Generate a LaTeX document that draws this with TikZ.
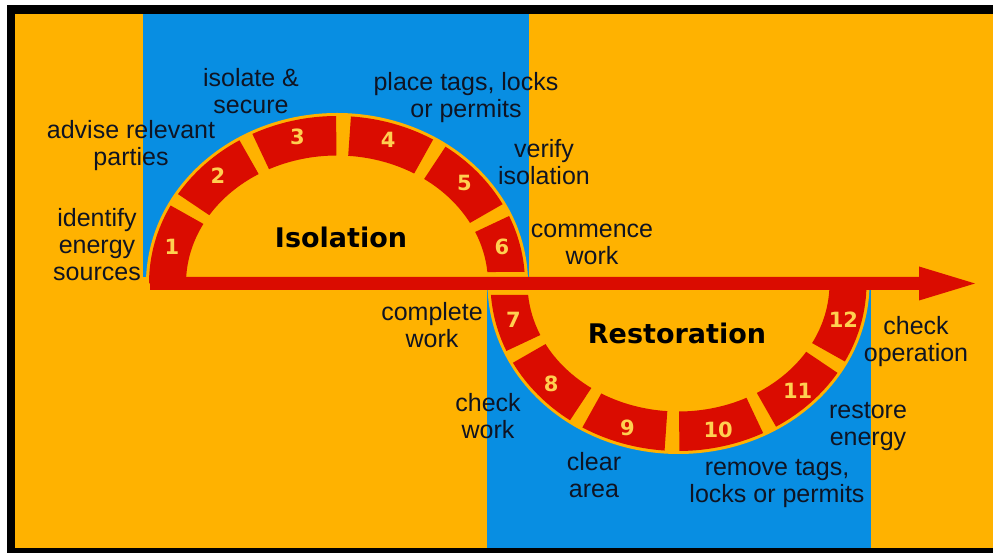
\documentclass[tikz,border=0pt]{standalone}
\usepackage{fontspec}
\setmainfont{Liberation Sans}
\newfontfamily\headfont{DejaVu Sans}
\definecolor{bgorange}{RGB}{255,178,0}
\definecolor{bandblue}{RGB}{8,142,226}
\definecolor{ringred}{RGB}{218,12,0}
\definecolor{numyellow}{RGB}{255,208,80}
\definecolor{txt}{RGB}{15,20,35}
% outer ellipse 188 x 167.5, inner ellipse 151 x 128
\newcommand\ringseg[2]{\fill[ringred] ({188*cos(#1)},{167.5*sin(#1)}) arc[start angle=#1,end angle=#2,x radius=188,y radius=167.5] -- ({151*cos(#2)},{128*sin(#2)}) arc[start angle=#2,end angle=#1,x radius=151,y radius=128] -- cycle;}
\newcommand\numat[1]{({170*cos(#1)},{151*sin(#1)})}
\begin{document}
\begin{tikzpicture}[x=1pt,y=1pt,
  lbl/.style={align=center, inner sep=0pt, text=txt, font=\fontsize{25}{27}\selectfont},
  ttl/.style={inner sep=0pt, text=black, font=\headfont\bfseries\fontsize{27}{30}\selectfont},
  num/.style={inner sep=0pt, text=numyellow, font=\headfont\bfseries\fontsize{21}{22}\selectfont}]
\useasboundingbox (0,0) rectangle (993,553);
\fill[white] (0,0) rectangle (993,553);
\fill[black] (7,0) rectangle (993,548);
\fill[bgorange] (15,5) rectangle (993,539);
\fill[bandblue] (143,276) rectangle (529,539);
\fill[bandblue] (487,5) rectangle (871,263);
% upper half ring
\begin{scope}[shift={(337,269.5)}]
  \fill[bgorange] (191,0) arc[start angle=0,end angle=180,x radius=191,y radius=170.5] -- cycle;
  \ringseg{180}{152.25}
  \ringseg{147.75}{121.25}
  \ringseg{116.75}{90.25}
  \ringseg{85.75}{59.25}
  \ringseg{54.75}{28.25}
  \fill[ringred] ({188*cos(23.75)},{167.5*sin(23.75)}) arc[start angle=23.75,end angle=3.94,x radius=188,y radius=167.5] -- ({151*cos(5.15)},{128*sin(5.15)}) arc[start angle=5.15,end angle=23.75,x radius=151,y radius=128] -- cycle;
  \node[num] (n1) at \numat{166} {1};
  \node[num] (n2) at \numat{134.5} {2};
  \node[num] (n3) at \numat{103.5} {3};
  \node[num] (n4) at \numat{72.5} {4};
  \node[num] (n5) at \numat{41.5} {5};
  \node[num] (n6) at \numat{14} {6};
\end{scope}
% lower half ring
\begin{scope}[shift={(678.5,269.5)}]
  \fill[bgorange] (-191,0) arc[start angle=180,end angle=360,x radius=191,y radius=170.5] -- cycle;
  \fill[ringred] ({188*cos(183.94)},{167.5*sin(183.94)}) arc[start angle=183.94,end angle=203.75,x radius=188,y radius=167.5] -- ({151*cos(203.75)},{128*sin(203.75)}) arc[start angle=203.75,end angle=185.15,x radius=151,y radius=128] -- cycle;
  \ringseg{208.25}{234.75}
  \ringseg{239.25}{265.75}
  \ringseg{270.25}{296.75}
  \ringseg{301.25}{327.75}
  \ringseg{332.25}{360}
  \node[num] (n7) at \numat{194} {7};
  \node[num] (n8) at \numat{221.5} {8};
  \node[num] (n9) at \numat{252.5} {9};
  \node[num] (n10) at \numat{283.5} {10};
  \node[num] (n11) at \numat{314.5} {11};
  \node[num] (n12) at \numat{346} {12};
\end{scope}
% arrow
\fill[ringred] (150,263) -- (919,263) -- (919,252.5) -- (975,269.5) -- (919,286.5) -- (919,276) -- (150,276) -- cycle;
% titles
\node[ttl] (iso) at (341,316) {Isolation};
\node[ttl] (res) at (677,220) {Restoration};
% labels
\node[lbl] (l1) at (97,308) {identify\\energy\\sources};
\node[lbl] (l2) at (131,407) {advise relevant\\parties};
\node[lbl] (l3) at (251,462) {isolate \&\\secure};
\node[lbl] (l4) at (466,455.5) {place tags, locks\\or permits};
\node[lbl] (l5) at (544,391) {verify\\isolation};
\node[lbl] (l6) at (592,309) {commence\\work};
\node[lbl] (l7) at (432,228) {complete\\work};
\node[lbl] (l8) at (488,137) {check\\work};
\node[lbl] (l9) at (594,78) {clear\\area};
\node[lbl] (l10) at (777,69) {remove tags,\\locks or permits};
\node[lbl] (l11) at (868,126) {restore\\energy};
\node[lbl] (l12) at (916,211) {check\\operation};
\end{tikzpicture}
\end{document}
